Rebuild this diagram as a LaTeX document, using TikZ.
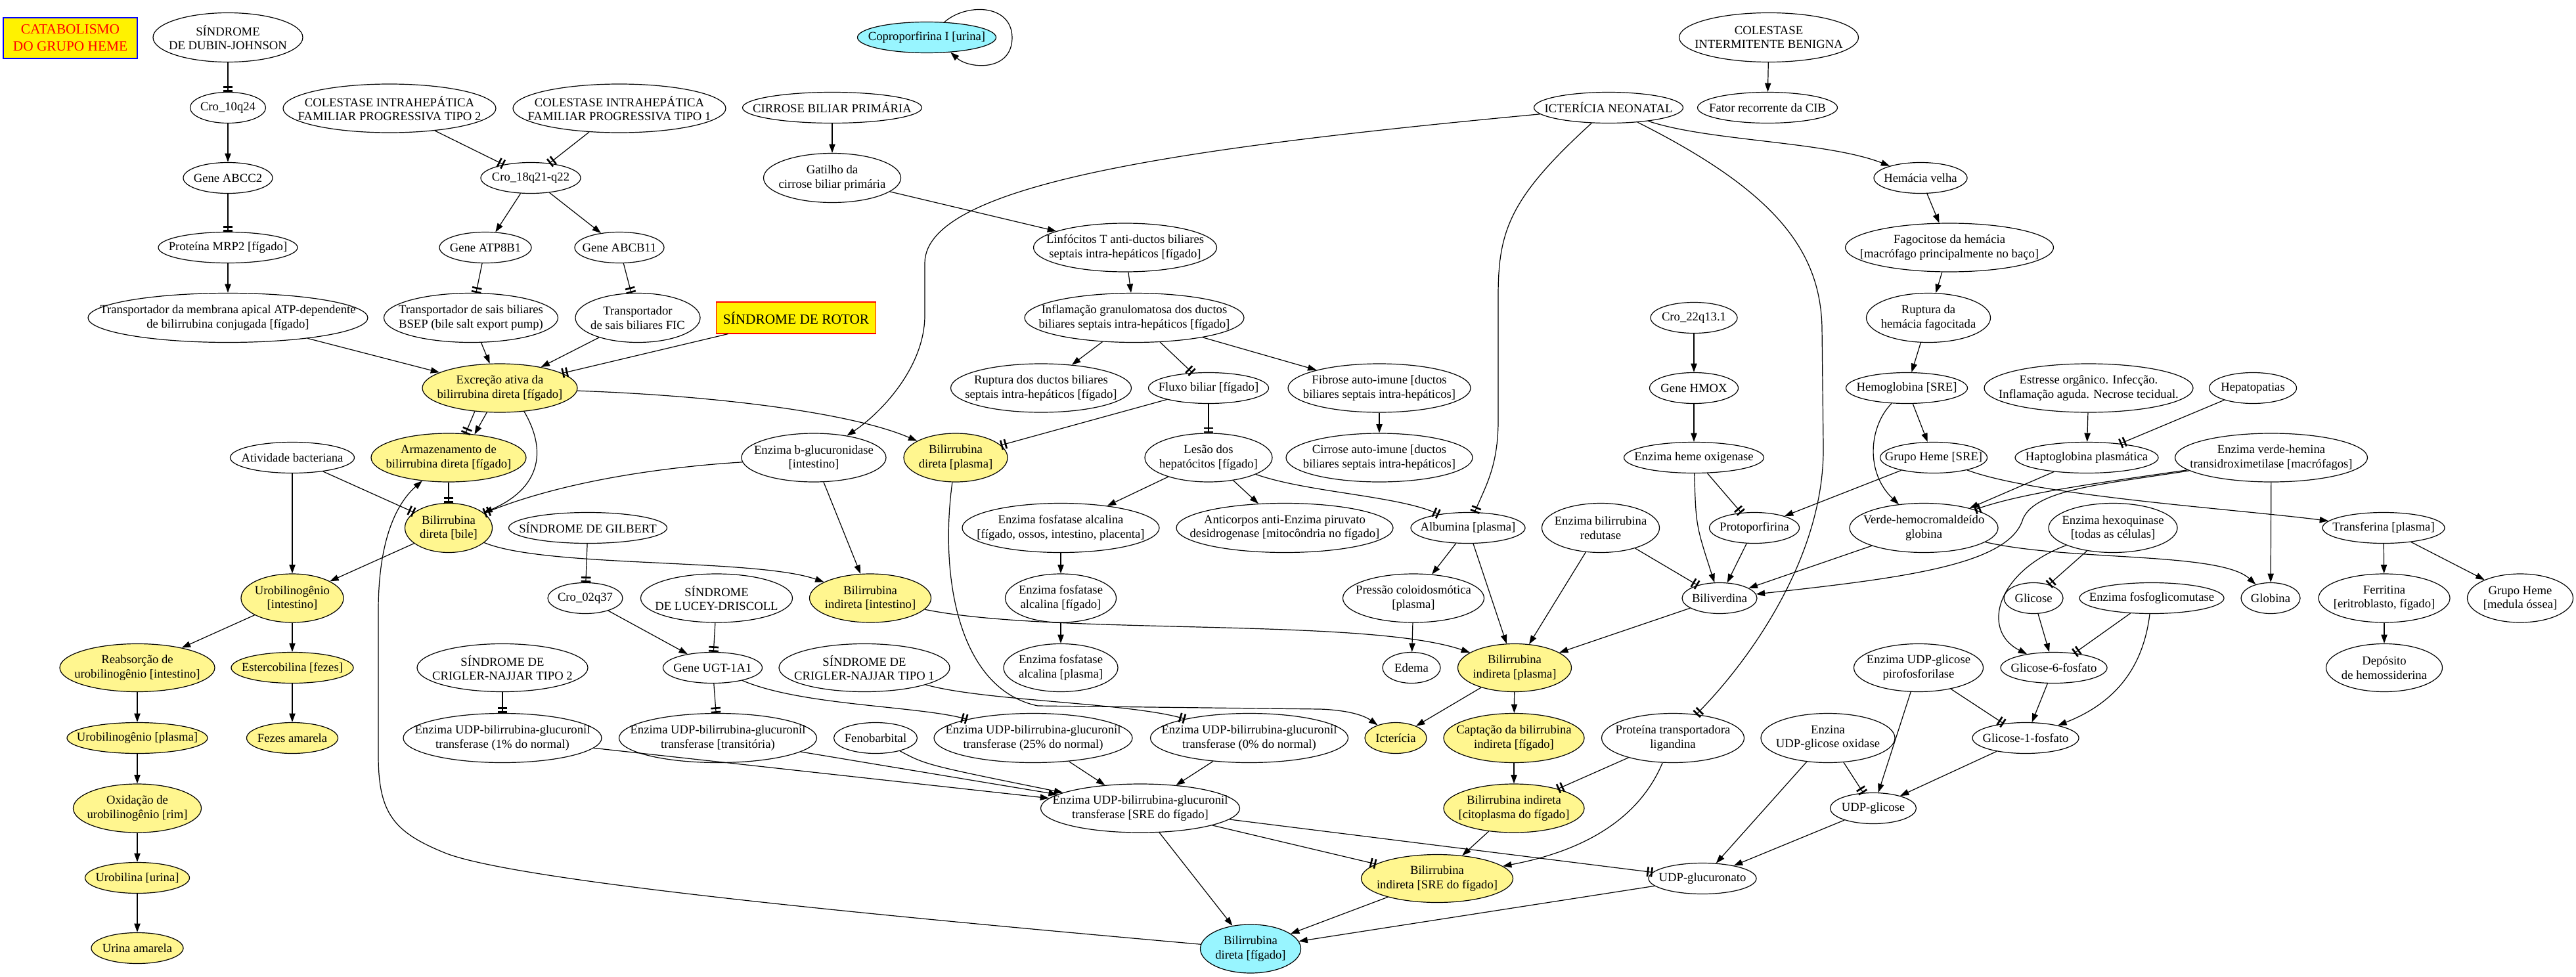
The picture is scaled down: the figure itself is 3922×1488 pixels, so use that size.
\documentclass[tikz,border=0pt]{standalone}
\usepackage{fontspec}
\setmainfont{Liberation Serif}
\usetikzlibrary{shapes.geometric,arrows.meta}
\definecolor{yelf}{HTML}{FFF68F}
\definecolor{cynf}{HTML}{98F5FF}
\newcommand\nf{\fontsize{14}{16}\selectfont}
\newcommand\boxfnt{\fontsize{16}{19.5}\selectfont}
\tikzset{
 ell/.style={ellipse, draw, line width=0.9pt, inner xsep=-80pt, inner ysep=-30pt, align=center, font=\nf},
 wh/.style 2 args={minimum width={#1*0.75pt}, minimum height={#2*0.75pt}},
 yl/.style={fill=yelf}, cy/.style={fill=cynf},
 box/.style={rectangle, draw, line width=0.9pt, inner sep=0pt, align=center, font=\boxfnt},
 arN/.style={draw, line width=0.9pt, -{Triangle[length=10pt,width=7pt]}},
 arT/.style={draw, line width=0.9pt, -{Bar[width=11pt,line width=2pt,sep=2.5pt]Bar[width=11pt,line width=2pt]}},
}
\begin{document}
\begin{tikzpicture}[x=0.75pt,y=-0.75pt]
\fill[white] (0,0) rectangle (3922,1488);
\useasboundingbox (0,0) rectangle (3922,1488);

% row 1
\node[box, fill=yellow, draw=blue, text=red, wh={204}{62}] (title) at (107,58) {CATABOLISMO\\DO GRUPO HEME};
\node[ell,wh={228}{75}] (dj) at (347,57) {SÍNDROME\\DE DUBIN-JOHNSON};
\node[ell,cy,wh={211}{47}] (cop) at (1411,57) {Coproporfirina I [urina]};
\node[ell,wh={273}{75}] (cib) at (2693,57) {COLESTASE\\INTERMITENTE BENIGNA};
% row 2
\node[ell,wh={115}{47}] (c10) at (347,164) {Cro\_10q24};
\node[ell,wh={324}{74}] (pfic2) at (593,165) {COLESTASE INTRAHEPÁTICA\\FAMILIAR PROGRESSIVA TIPO 2};
\node[ell,wh={324}{74}] (pfic1) at (943,165) {COLESTASE INTRAHEPÁTICA\\FAMILIAR PROGRESSIVA TIPO 1};
\node[ell,wh={273}{47}] (cbp) at (1267,164) {CIRROSE BILIAR PRIMÁRIA};
\node[ell,wh={227}{47}] (ictn) at (2449,164) {ICTERÍCIA NEONATAL};
\node[ell,wh={213}{47}] (fat) at (2691,164) {Fator recorrente da CIB};
% row 3
\node[ell,wh={136}{47}] (abcc2) at (347,271) {Gene ABCC2};
\node[ell,wh={152}{47}] (c18) at (808,271) {Cro\_18q21-q22};
\node[ell,wh={209}{75}] (gat) at (1267,271) {Gatilho da\\cirrose biliar primária};
\node[ell,wh={142}{47}] (hv) at (2924,271) {Hemácia velha};
% row 4
\node[ell,wh={212}{47}] (mrp2) at (347,377) {Proteína MRP2 [fígado]};
\node[ell,wh={140}{47}] (atp) at (739,377) {Gene ATP8B1};
\node[ell,wh={136}{47}] (abcb) at (943,377) {Gene ABCB11};
\node[ell,wh={279}{74}] (linf) at (1713,377) {Linfócitos T anti-ductos biliares\\septais intra-hepáticos [fígado]};
\node[ell,wh={317}{74}] (fag) at (2968,377) {Fagocitose da hemácia\\{}[macrófago principalmente no baço]};
% row 5
\node[ell,wh={426}{75}] (tmem) at (347,484) {Transportador da membrana apical ATP-dependente\\de bilirrubina conjugada [fígado]};
\node[ell,wh={265}{75}] (bsep) at (717,484) {Transportador de sais biliares\\BSEP (bile salt export pump)};
\node[ell,wh={190}{75}] (fic) at (971,484) {Transportador\\de sais biliares FIC};
\node[box,fill=yellow,draw=red,wh={243}{48}] (rotor) at (1212,484) {SÍNDROME DE ROTOR};
\node[ell,wh={334}{75}] (infl) at (1727,484) {Inflamação granulomatosa dos ductos\\biliares septais intra-hepáticos [fígado]};
\node[ell,wh={132}{47}] (c22) at (2579,484) {Cro\_22q13.1};
\node[ell,wh={189}{75}] (rup) at (2936,484) {Ruptura da\\hemácia fagocitada};
% row 6
\node[ell,yl,wh={236}{74}] (exc) at (761,591) {Excreção ativa da\\bilirrubina direta [fígado]};
\node[ell,wh={275}{74}] (rupd) at (1585,591) {Ruptura dos ductos biliares\\septais intra-hepáticos [fígado]};
\node[ell,wh={183}{47}] (flux) at (1840,591) {Fluxo biliar [fígado]};
\node[ell,wh={278}{74}] (fib) at (2100,591) {Fibrose auto-imune [ductos\\biliares septais intra-hepáticos]};
\node[ell,wh={135}{47}] (hmox) at (2579,591) {Gene HMOX};
\node[ell,wh={185}{47}] (hb) at (2903,591) {Hemoglobina [SRE]};
\node[ell,wh={318}{74}] (str) at (3180,591) {Estresse orgânico. Infecção.\\Inflamação aguda. Necrose tecidual.};
\node[ell,wh={133}{47}] (hep) at (3430,591) {Hepatopatias};
% row 7
\node[ell,wh={189}{47}] (atb) at (445,697) {Atividade bacteriana};
\node[ell,yl,wh={236}{74}] (arm) at (683,697) {Armazenamento de\\bilirrubina direta [fígado]};
\node[ell,wh={220}{74}] (bglu) at (1239,697) {Enzima b-glucuronidase\\{}[intestino]};
\node[ell,yl,wh={158}{74}] (bdp) at (1455,697) {Bilirrubina\\direta [plasma]};
\node[ell,wh={194}{74}] (les) at (1840,697) {Lesão dos\\hepatócitos [fígado]};
\node[ell,wh={284}{74}] (cai) at (2100,697) {Cirrose auto-imune [ductos\\biliares septais intra-hepáticos]};
\node[ell,wh={213}{47}] (hox) at (2579,697) {Enzima heme oxigenase};
\node[ell,wh={163}{47}] (ghs) at (2944,697) {Grupo Heme [SRE]};
\node[ell,wh={218}{47}] (hap) at (3177,697) {Haptoglobina plasmática};
\node[ell,wh={293}{74}] (evh) at (3458,697) {Enzima verde-hemina\\transidroximetilase [macrófagos]};
% row 8
\node[ell,yl,wh={133}{75}] (bile) at (683,804) {Bilirrubina\\direta [bile]};
\node[ell,wh={241}{47}] (gil) at (895,804) {SÍNDROME DE GILBERT};
\node[ell,wh={300}{75}] (fal) at (1615,804) {Enzima fosfatase alcalina\\{}[fígado, ossos, intestino, placenta]};
\node[ell,wh={330}{75}] (anti) at (1956,804) {Anticorpos anti-Enzima piruvato\\desidrogenase [mitocôndria no fígado]};
\node[ell,wh={174}{47}] (alb) at (2235,804) {Albumina [plasma]};
\node[ell,wh={179}{75}] (bred) at (2437,804) {Enzima bilirrubina\\redutase};
\node[ell,wh={137}{47}] (proto) at (2671,804) {Protoporfirina};
\node[ell,wh={226}{75}] (verde) at (2929,804) {Verde-hemocromaldeído\\globina};
\node[ell,wh={196}{75}] (hex) at (3217,804) {Enzima hexoquinase\\{}[todas as células]};
\node[ell,wh={186}{47}] (trf) at (3629,804) {Transferina [plasma]};
% row 9
\node[ell,yl,wh={156}{74}] (urint) at (445,911) {Urobilinogênio\\{}[intestino]};
\node[ell,wh={114}{47}] (c02) at (891,911) {Cro\_02q37};
\node[ell,wh={231}{74}] (lucey) at (1091,911) {SÍNDROME\\DE LUCEY-DRISCOLL};
\node[ell,yl,wh={185}{74}] (bii) at (1325,911) {Bilirrubina\\indireta [intestino]};
\node[ell,wh={169}{74}] (falf) at (1615,911) {Enzima fosfatase\\alcalina [fígado]};
\node[ell,wh={215}{74}] (pco) at (2152,911) {Pressão coloidosmótica\\{}[plasma]};
\node[ell,wh={114}{47}] (bv) at (2618,911) {Biliverdina};
\node[ell,wh={90}{47}] (glc) at (3096,911) {Glicose};
\node[ell,wh={220}{47}] (pgm) at (3276,911) {Enzima fosfoglicomutase};
\node[ell,wh={90}{47}] (glob) at (3457,911) {Globina};
\node[ell,wh={200}{74}] (ferr) at (3630,911) {Ferritina\\{}[eritroblasto, fígado]};
\node[ell,wh={161}{74}] (ghm) at (3837,911) {Grupo Heme\\{}[medula óssea]};
% row 10
\node[ell,yl,wh={236}{73}] (reab) at (209,1017) {Reabsorção de\\urobilinogênio [intestino]};
\node[ell,yl,wh={186}{47}] (ester) at (445,1017) {Estercobilina [fezes]};
\node[ell,wh={260}{73}] (cn2) at (765,1017) {SÍNDROME DE\\CRIGLER-NAJJAR TIPO 2};
\node[ell,wh={151}{47}] (ugt) at (1085,1017) {Gene UGT-1A1};
\node[ell,wh={260}{73}] (cn1) at (1316,1017) {SÍNDROME DE\\CRIGLER-NAJJAR TIPO 1};
\node[ell,wh={174}{73}] (falp) at (1615,1017) {Enzima fosfatase\\alcalina [plasma]};
\node[ell,wh={88}{47}] (edema) at (2149,1017) {Edema};
\node[ell,yl,wh={173}{73}] (bip) at (2306,1017) {Bilirrubina\\indireta [plasma]};
\node[ell,wh={197}{73}] (pir) at (2921,1017) {Enzima UDP-glicose\\pirofosforilase};
\node[ell,wh={162}{47}] (g6p) at (3127,1017) {Glicose-6-fosfato};
\node[ell,wh={177}{73}] (dep) at (3630,1017) {Depósito\\de hemossiderina};
% row 11
\node[ell,yl,wh={214}{47}] (urpl) at (209,1124) {Urobilinogênio [plasma]};
\node[ell,yl,wh={139}{47}] (fez) at (445,1124) {Fezes amarela};
\node[ell,wh={302}{75}] (u1) at (765,1124) {Enzima UDP-bilirrubina-glucuronil\\transferase (1\% do normal)};
\node[ell,wh={301}{75}] (utr) at (1093,1124) {Enzima UDP-bilirrubina-glucuronil\\transferase [transitória)};
\node[ell,wh={127}{47}] (fen) at (1333,1124) {Fenobarbital};
\node[ell,wh={302}{75}] (u25) at (1573,1124) {Enzima UDP-bilirrubina-glucuronil\\transferase (25\% do normal)};
\node[ell,wh={301}{75}] (u0) at (1902,1124) {Enzima UDP-bilirrubina-glucuronil\\transferase (0\% do normal)};
\node[ell,yl,wh={94}{47}] (icte) at (2125,1124) {Icterícia};
\node[ell,yl,wh={214}{75}] (capt) at (2305,1124) {Captação da bilirrubina\\indireta [fígado]};
\node[ell,wh={217}{75}] (lig) at (2547,1124) {Proteína transportadora\\ligandina};
\node[ell,wh={204}{75}] (oxi) at (2783,1124) {Enzina\\UDP-glicose oxidase};
\node[ell,wh={162}{47}] (g1p) at (3084,1124) {Glicose-1-fosfato};
% row 12
\node[ell,yl,wh={195}{74}] (oxid) at (209,1231) {Oxidação de\\urobilinogênio [rim]};
\node[ell,wh={303}{74}] (sre) at (1736,1231) {Enzima UDP-bilirrubina-glucuronil\\transferase [SRE do fígado]};
\node[ell,yl,wh={214}{74}] (cito) at (2305,1231) {Bilirrubina indireta\\{}[citoplasma do fígado]};
\node[ell,wh={131}{47}] (udpg) at (2852,1231) {UDP-glicose};
% row 13
\node[ell,yl,wh={159}{47}] (urob) at (209,1337) {Urobilina [urina]};
\node[ell,yl,wh={231}{73}] (bis) at (2188,1338) {Bilirrubina\\indireta [SRE do fígado]};
\node[ell,wh={164}{47}] (udpgl) at (2592,1338) {UDP-glucuronato};
% row 14
\node[ell,yl,wh={140}{47}] (urin) at (209,1444) {Urina amarela};
\node[ell,cy,wh={153}{74}] (bdf) at (1904,1445) {Bilirrubina\\direta [fígado]};

% ---------- edges ----------
\draw[arN] (cop.41) .. controls (1470,5) and (1540,5) .. (1541,57) .. controls (1541,110) and (1475,105) .. (cop.-32);
\draw[arT] (dj) -- (c10);
\draw[arN] (c10) -- (abcc2);
\draw[arT] (abcc2) -- (mrp2);
\draw[arN] (mrp2) -- (tmem);
\draw[arT] (pfic2) -- (c18);
\draw[arT] (pfic1) -- (c18);
\draw[arN] (c18) -- (atp);
\draw[arN] (c18) -- (abcb);
\draw[arT] (atp) -- (bsep);
\draw[arT] (abcb) -- (fic);
\draw[arN] (tmem) -- (exc);
\draw[arN] (bsep) -- (exc);
\draw[arN] (fic) -- (exc);
\draw[arT] (rotor) -- (exc);
\draw[arT] (exc.223) -- (arm.55);
\draw[arN] (exc.242) -- (arm.42);
\draw[arN] (exc.316) .. controls (835,690) and (820,745) .. (bile);
\draw[arN] (exc) .. controls (1100,603) and (1300,630) .. (bdp);
\draw[arT] (bglu) .. controls (1000,712) and (850,735) .. (bile);
\draw[arT] (arm) -- (bile);
\draw[arT] (atb) -- (bile);
\draw[arN] (atb) -- (urint);
\draw[arN] (bile) -- (urint);
\draw[arN] (bile) .. controls (830,865) and (1150,850) .. (bii);
\draw[arN] (bdf) .. controls (1400,1400) and (800,1345) .. (680,1300) .. controls (600,1268) and (576,1240) .. (576,1150) -- (576,930) .. controls (576,830) and (600,770) .. (arm);
\draw[arT] (gil) -- (c02);
\draw[arN] (urint) -- (reab);
\draw[arN] (urint) -- (ester);
\draw[arN] (ester) -- (fez);
\draw[arN] (reab) -- (urpl);
\draw[arN] (urpl) -- (oxid);
\draw[arN] (oxid) -- (urob);
\draw[arN] (urob) -- (urin);
\draw[arT] (cn2) -- (u1);
\draw[arN] (u1) -- (sre);
\draw[arN] (c02) -- (ugt);
\draw[arT] (lucey) -- (ugt);
\draw[arT] (ugt) -- (utr);
\draw[arT] (ugt) .. controls (1220,1075) and (1400,1075) .. (u25);
\draw[arT] (cn1) .. controls (1500,1068) and (1720,1070) .. (u0);
\draw[arN] (utr) -- (sre);
\draw[arN] (fen) .. controls (1410,1165) .. (sre);
\draw[arN] (u25) -- (sre);
\draw[arN] (u0) -- (sre);
\draw[arN] (sre) -- (bdf);
\draw[arT] (sre) -- (bis);
\draw[arT] (sre) -- (udpgl);
\draw[arN] (bis) -- (bdf);
\draw[arN] (udpgl) -- (bdf);
\draw[arN] (bdp) .. controls (1430,880) and (1460,1050) .. (1580,1075) -- (2010,1080) .. controls (2060,1082) and (2080,1092) .. (icte);
\draw[arN] (cbp) -- (gat);
\draw[arN] (gat) -- (linf);
\draw[arN] (linf) -- (infl);
\draw[arN] (infl) -- (rupd);
\draw[arT] (infl) -- (flux);
\draw[arN] (infl) -- (fib);
\draw[arN] (fib) -- (cai);
\draw[arT] (flux) -- (bdp);
\draw[arT] (flux) -- (les);
\draw[arN] (les) -- (fal);
\draw[arN] (les) -- (anti);
\draw[arT] (les) .. controls (1990,750) and (2130,755) .. (alb);
\draw[arN] (fal) -- (falf);
\draw[arN] (falf) -- (falp);
\draw[arN] (bglu) -- (bii);
\draw[arN] (bii) .. controls (1600,968) and (2080,940) .. (bip);
\draw[arN] (ictn) .. controls (1800,225) and (1410,280) .. (1408,400) -- (1408,480) .. controls (1408,560) and (1340,630) .. (bglu);
\draw[arT] (ictn) .. controls (2300,300) and (2281,350) .. (2281,450) -- (2281,640) .. controls (2281,710) and (2262,740) .. (alb);
\draw[arT] (ictn) .. controls (2700,290) and (2772,380) .. (2774,500) -- (2776,680) .. controls (2778,850) and (2660,1010) .. (lig);
\draw[arN] (ictn) .. controls (2600,215) and (2780,215) .. (hv);
\draw[arN] (cib) -- (fat);
\draw[arN] (hv) -- (fag);
\draw[arN] (fag) -- (rup);
\draw[arN] (rup) -- (hb);
\draw[arN] (c22) -- (hmox);
\draw[arN] (hmox) -- (hox);
\draw[arT] (hox) -- (proto);
\draw[arN] (hox) .. controls (2582,800) .. (bv);
\draw[arN] (hb) -- (ghs);
\draw[arN] (hb) .. controls (2845,650) and (2840,720) .. (verde);
\draw[arN] (ghs) -- (proto);
\draw[arN] (ghs) .. controls (3100,755) and (3400,775) .. (trf);
\draw[arN] (proto) -- (bv);
\draw[arT] (bred) -- (bv);
\draw[arN] (bred) -- (bip);
\draw[arN] (verde) -- (bv);
\draw[arN] (evh) .. controls (3200,738) and (3100,745) .. (3080,790) .. controls (3060,860) and (2900,880) .. (bv);
\draw[arT] (evh) .. controls (3200,735) and (3080,750) .. (verde);
\draw[arN] (hap) -- (verde);
\draw[arN] (str) -- (hap);
\draw[arT] (hep) -- (hap);
\draw[arN] (evh) -- (glob);
\draw[arN] (verde) .. controls (3150,855) and (3380,840) .. (glob);
\draw[arN] (trf) -- (ferr);
\draw[arN] (trf) -- (ghm);
\draw[arN] (ferr) -- (dep);
\draw[arT] (hex) -- (glc);
\draw[arN] (hex) .. controls (3040,870) and (3015,960) .. (g6p);
\draw[arN] (glc) -- (g6p);
\draw[arT] (pgm) -- (g6p);
\draw[arN] (pgm) .. controls (3265,1000) and (3235,1065) .. (g1p);
\draw[arN] (g6p) -- (g1p);
\draw[arT] (pir) -- (g1p);
\draw[arN] (pir) -- (udpg);
\draw[arN] (g1p) -- (udpg);
\draw[arT] (oxi) -- (udpg);
\draw[arN] (oxi) -- (udpgl);
\draw[arN] (udpg) -- (udpgl);
\draw[arT] (lig) -- (cito);
\draw[arN] (lig) .. controls (2490,1260) and (2390,1300) .. (bis);
\draw[arN] (bip) -- (icte);
\draw[arN] (bip) -- (capt);
\draw[arN] (capt) -- (cito);
\draw[arN] (cito) -- (bis);
\draw[arN] (alb) -- (pco);
\draw[arN] (alb) -- (bip);
\draw[arN] (pco) -- (edema);
\draw[arN] (bv) -- (bip);
\end{tikzpicture}
\end{document}
